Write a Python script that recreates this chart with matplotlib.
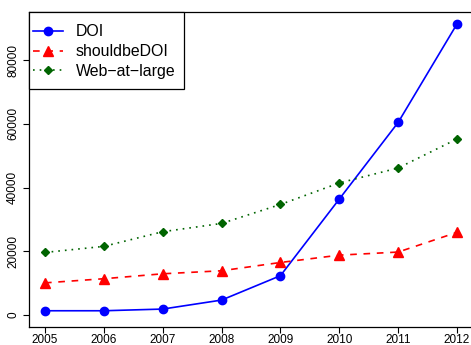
import matplotlib
matplotlib.use("Agg")
import matplotlib.pyplot as plt
from matplotlib.patches import Rectangle

plt.rcParams['font.family'] = ['Liberation Sans', 'DejaVu Sans']

years = [2005, 2006, 2007, 2008, 2009, 2010, 2011, 2012]
doi = [1350, 1350, 1880, 4700, 12350, 36400, 60450, 91350]
shouldbe_doi = [10100, 11400, 12950, 13900, 16500, 18800, 19770, 25950]
web_at_large = [19650, 21550, 26150, 28750, 34700, 41450, 46150, 55250]
y_ticks = [0, 20000, 40000, 60000, 80000]

fig = plt.figure(figsize=(4.71, 3.45), dpi=100)
W, H = 471, 345
ax = fig.add_axes([28.5 / W, (H - 326.7) / H, (473.5 - 28.5) / W, (326.7 - 12.3) / H])

ax.plot(years, doi, color='blue', linestyle='-', lw=1.2,
        marker='o', markersize=6, label='DOI')
ax.plot(years, shouldbe_doi, color='red', linestyle=(0, (4, 4)), lw=1.2,
        marker='^', markersize=7, label='shouldbeDOI')
ax.plot(years, web_at_large, color='#006400', linestyle=(0, (1, 3)), lw=1.2,
        marker='D', markersize=4, label='Web\u2212at\u2212large')

span_x = years[-1] - years[0]
ax.set_xlim(years[0] - 0.04 * span_x, years[-1] + 0.04 * span_x)
ymax = max(doi)
ax.set_ylim(-0.04 * ymax, ymax * 1.04)

ax.set_xticks(years)
ax.set_xticklabels([str(y) for y in years], fontsize=8.5)
ax.set_yticks(y_ticks)
ax.set_yticklabels([str(v) for v in y_ticks], fontsize=8.5, rotation=90, va='center')
ax.tick_params(direction='out', length=4.3, width=0.8)
ax.tick_params(axis='x', pad=1.0)
ax.tick_params(axis='y', pad=2.5)

for s in ax.spines.values():
    s.set_linewidth(0.9)

# R-style legend box: frame drawn separately (taller padding than wide)
frame = Rectangle((29 / W, 1 - 89 / H), (184 - 29) / W, (89 - 12.3) / H,
                  transform=fig.transFigure, facecolor='white',
                  edgecolor='black', lw=0.9, zorder=4, clip_on=False)
ax.add_patch(frame)
leg = ax.legend(loc='upper left', bbox_to_anchor=(33 / W, 1 - 24.5 / H),
                bbox_transform=fig.transFigure, borderaxespad=0, borderpad=0,
                frameon=False, fontsize=11.4, handlelength=1.9,
                handletextpad=0.82, labelspacing=0.3)
leg.set_zorder(5)

fig.savefig('out.png', dpi=100)
